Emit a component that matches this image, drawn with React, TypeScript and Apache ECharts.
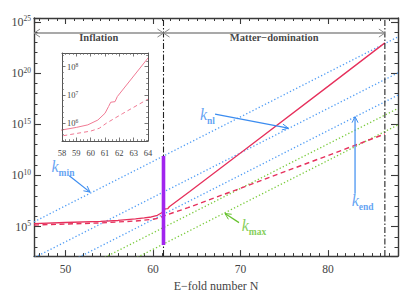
import React, { useEffect, useRef } from "react";
import * as echarts from "echarts";

// ---- axis ranges (x: e-fold number N, y: log10 k) ----
const xRange = [46.4, 88];
const yRange = [2.12, 25.38];
const insetXRange = [58, 64];
const insetYRange = [5.37, 8.48];

// ---- curves (log10 of value) ----
const solidN = [46.4, 50, 54, 56, 58, 59, 59.8, 60.5, 61.0, 61.25, 61.4, 61.7, 61.86, 64.2, 70, 80, 86.5];
const solidLogK = [5.3, 5.4, 5.52, 5.6, 5.76, 5.85, 5.94, 6.11, 6.35, 6.59, 6.74, 6.76, 6.94, 8.43, 12.2, 18.7, 22.95];
const dashedN = [46.4, 50, 54, 58, 60, 60.6, 61.1, 61.6, 62.2, 64, 70, 80, 86.5];
const dashedLogK = [5.15, 5.25, 5.36, 5.55, 5.72, 5.82, 6.0, 6.15, 6.33, 6.85, 8.75, 11.95, 14.05];

// ---- dotted mode lines: [N, log10 k] end points ----
const blueLines = [
  [[46.4, 5.47], [88, 23.54]],
  [[46.5, 2.0], [88, 20.02]],
  [[51.5, 2.0], [88, 17.85]],
];
const greenLines = [
  [[54.5, 2.0], [88, 16.55]],
  [[58.2, 2.0], [88, 14.94]],
];

// ---- markers ----
const transitionN = 61.2;
const endN = 86.5;
const reheatBar = [[61.2, 3.2], [61.2, 11.9]];
const eraLogK = 23.91;
const eraArrowN = [46.4, 61.2, 61.2, 86.5];
const eraArrowDir = [-1, 1, -1, 1];
const eraTitles = ["Inflation", "Matter\u2212domination"];
const eraTitleN = [53.8, 73.85];
const eraTitleLogK = 23.45;

// ---- annotations ----
const annotNames = ["min", "nl", "max", "end"];
const annotLabelN = [48.4, 65.37, 70.14, 82.71];
const annotLabelLogK = [10.87, 15.96, 5.1, 7.6];
const annotArrowFrom = [[50.43, 9.97], [67.09, 15.99], [69.83, 5.39], [83.09, 8.2]];
const annotArrowTo = [[52.8, 8.37], [75.46, 14.62], [68.23, 6.28], [83.09, 15.74]];
const BLUE = "#3b8cf0";
const GREEN = "#66c22e";
const annotColors = [BLUE, BLUE, GREEN, BLUE];

const RED = "#e6305c";
const INSET_RED = "#f07a94";
const DOT_BLUE = "#4f9cf5";
const DOT_GREEN = "#7acb3c";
const AXIS = "#3a3a3a";
const serif = '"Liberation Serif", "DejaVu Serif", serif';

const zip = (a: number[], b: number[]) => a.map((v, i) => [v, b[i]]);

export default function App() {
  const ref = useRef<HTMLDivElement>(null);
  useEffect(() => {
    if (!ref.current) return;
    const chart = echarts.init(ref.current, undefined, { renderer: "svg" });

    const supLabel = (step: number) => (v: number) => {
      const r = Math.round(v);
      if (Math.abs(v - r) < 1e-6 && r % step === 0) return `10{s|${r}}`;
      return "";
    };

    const mainX = (pos: "bottom" | "top", labels: boolean) => ({
      type: "value",
      gridIndex: 0,
      position: pos,
      min: xRange[0],
      max: xRange[1],
      splitNumber: 5,
      minInterval: 10,
      maxInterval: 10,
      splitLine: { show: false },
      axisLine: { show: true, onZero: false, lineStyle: { color: AXIS, width: 1.4 } },
      axisTick: { show: true, inside: true, length: 6, lineStyle: { color: AXIS, width: 1.1 } },
      minorTick: { show: true, splitNumber: 10, length: 3, lineStyle: { color: AXIS, width: 1 } },
      axisLabel: {
        show: labels,
        margin: 7,
        fontFamily: serif,
        fontSize: 11.5,
        color: "#444",
        formatter: (v: number) => (Math.abs(v % 10) < 1e-6 ? String(v) : ""),
      },
      ...(labels
        ? {
            name: "E\u2212fold number N",
            nameLocation: "middle",
            nameGap: 21,
            nameTextStyle: { fontFamily: serif, fontSize: 12, color: "#444" },
          }
        : {}),
    });

    const mainY = (pos: "left" | "right", labels: boolean) => ({
      type: "value",
      gridIndex: 0,
      position: pos,
      min: yRange[0],
      max: yRange[1],
      splitNumber: 5,
      minInterval: 5,
      maxInterval: 5,
      splitLine: { show: false },
      axisLine: { show: true, onZero: false, lineStyle: { color: AXIS, width: 1.4 } },
      axisTick: { show: true, inside: true, length: 7, lineStyle: { color: AXIS, width: 1.1 } },
      minorTick: { show: true, splitNumber: 5, length: 3.5, lineStyle: { color: AXIS, width: 1 } },
      axisLabel: {
        show: labels,
        margin: 3,
        fontFamily: serif,
        fontSize: 12,
        lineHeight: 14,
        color: "#444",
        formatter: supLabel(5),
        rich: { s: { fontFamily: serif, fontSize: 7.5, lineHeight: 8, verticalAlign: "top", color: "#444" } },
      },
    });

    const insetX = (pos: "bottom" | "top", labels: boolean) => ({
      type: "value",
      gridIndex: 1,
      position: pos,
      z: 10,
      min: insetXRange[0],
      max: insetXRange[1],
      interval: 1,
      splitLine: { show: false },
      axisLine: { show: true, onZero: false, lineStyle: { color: "#555", width: 1 } },
      axisTick: { show: true, inside: true, length: 3.5, lineStyle: { color: "#555", width: 0.8 } },
      minorTick: { show: true, splitNumber: 4, length: 1.8, lineStyle: { color: "#666", width: 0.8 } },
      axisLabel: { show: labels, margin: 7, fontFamily: serif, fontSize: 8.5, color: "#444" },
    });

    const insetY = (pos: "left" | "right", labels: boolean) => ({
      type: "value",
      gridIndex: 1,
      position: pos,
      z: 10,
      min: insetYRange[0],
      max: insetYRange[1],
      splitNumber: 3,
      minInterval: 1,
      maxInterval: 1,
      splitLine: { show: false },
      axisLine: { show: true, onZero: false, lineStyle: { color: "#555", width: 1 } },
      axisTick: { show: true, inside: true, length: 3.5, lineStyle: { color: "#555", width: 0.8 } },
      minorTick: { show: true, splitNumber: 5, length: 1.8, lineStyle: { color: "#666", width: 0.8 } },
      axisLabel: {
        show: labels,
        inside: true,
        margin: 5,
        fontFamily: serif,
        fontSize: 8.5,
        lineHeight: 10,
        color: "#444",
        formatter: supLabel(1),
        rich: { s: { fontFamily: serif, fontSize: 5.5, lineHeight: 6, verticalAlign: "top", color: "#444" } },
      },
    });

    const dotted = (pts: number[][], color: string) => ({
      type: "line",
      xAxisIndex: 0,
      yAxisIndex: 0,
      data: pts,
      symbol: "none",
      clip: true,
      silent: true,
      lineStyle: { color, width: 1.3, type: [1.3, 2.2] },
      z: 2,
    });

    const kLabelRich = (color: string) => ({
      k: { fontFamily: serif, fontStyle: "italic", fontSize: 16, lineHeight: 17, color },
      s: { fontFamily: serif, fontWeight: "bold", fontSize: 9.5, lineHeight: 9, verticalAlign: "bottom", color, padding: [0, 0, -3, 0] },
    });

    const option: any = {
      animation: false,
      backgroundColor: "#fff",
      grid: [
        { left: 34, top: 18, width: 364, height: 242 },
        { left: 62, top: 53, width: 86, height: 88, show: true, backgroundColor: "#fff", borderWidth: 0, z: 1 },
      ],
      xAxis: [mainX("bottom", true), mainX("top", false), insetX("bottom", true), insetX("top", false)],
      yAxis: [mainY("left", true), mainY("right", false), insetY("left", true), insetY("right", false)],
      series: [
        ...blueLines.map((l) => dotted(l, DOT_BLUE)),
        ...greenLines.map((l) => dotted(l, DOT_GREEN)),
        {
          type: "line",
          xAxisIndex: 0,
          yAxisIndex: 0,
          data: zip(dashedN, dashedLogK),
          symbol: "none",
          clip: true,
          lineStyle: { color: RED, width: 1.4, type: [5, 3.5] },
          z: 3,
        },
        {
          type: "line",
          xAxisIndex: 0,
          yAxisIndex: 0,
          data: zip(solidN, solidLogK),
          symbol: "none",
          clip: true,
          lineStyle: { color: RED, width: 1.3 },
          z: 3,
        },
        // vertical dash-dot markers
        ...[transitionN, endN].map((n) => ({
          type: "line",
          xAxisIndex: 0,
          yAxisIndex: 0,
          data: [[n, yRange[0]], [n, yRange[1]]],
          symbol: "none",
          lineStyle: { color: "#222", width: 1.1, type: [6, 2, 1.5, 2] },
          z: 4,
        })),
        // reheating bar
        {
          type: "line",
          xAxisIndex: 0,
          yAxisIndex: 0,
          data: reheatBar,
          symbol: "none",
          lineStyle: { color: "#a125ee", width: 3.6, cap: "butt" },
          z: 5,
        },
        // era line
        {
          type: "line",
          xAxisIndex: 0,
          yAxisIndex: 0,
          data: [[eraArrowN[0], eraLogK], [eraArrowN[3], eraLogK]],
          symbol: "none",
          lineStyle: { color: "#555", width: 1.1 },
          z: 4,
        },
        // era arrowheads
        {
          type: "custom",
          xAxisIndex: 0,
          yAxisIndex: 0,
          coordinateSystem: "cartesian2d",
          data: eraArrowN.map((n, i) => [n, eraLogK, eraArrowDir[i]]),
          encode: { x: 0, y: 1 },
          z: 5,
          renderItem: (_p: any, api: any) => {
            const p = api.coord([api.value(0), api.value(1)]);
            const d = api.value(2);
            const L = 6,
              W = 4;
            return {
              type: "polyline",
              shape: { points: [[p[0] - d * L, p[1] - W], [p[0], p[1]], [p[0] - d * L, p[1] + W]] },
              style: { stroke: "#888", fill: "none", lineWidth: 1 },
            };
          },
        },
        // era titles
        {
          type: "scatter",
          xAxisIndex: 0,
          yAxisIndex: 0,
          symbolSize: 0,
          itemStyle: { color: "transparent" },
          data: eraTitles.map((t, i) => ({ value: [eraTitleN[i], eraTitleLogK], name: t })),
          label: {
            show: true,
            position: "inside",
            formatter: (p: any) => p.name,
            fontFamily: serif,
            fontWeight: "bold",
            fontSize: 10.5,
            color: "#111",
          },
          z: 6,
        },
        // annotation arrows
        {
          type: "custom",
          xAxisIndex: 0,
          yAxisIndex: 0,
          coordinateSystem: "cartesian2d",
          data: annotArrowFrom.map((a, i) => [a[0], a[1], annotArrowTo[i][0], annotArrowTo[i][1]]),
          encode: { x: [0, 2], y: [1, 3] },
          z: 6,
          renderItem: (params: any, api: any) => {
            const a = api.coord([api.value(0), api.value(1)]);
            const b = api.coord([api.value(2), api.value(3)]);
            const dx = b[0] - a[0],
              dy = b[1] - a[1];
            const len = Math.hypot(dx, dy) || 1;
            const ux = dx / len,
              uy = dy / len;
            const L = 6,
              W = 3;
            const color = annotColors[params.dataIndex];
            return {
              type: "group",
              children: [
                { type: "line", shape: { x1: a[0], y1: a[1], x2: b[0], y2: b[1] }, style: { stroke: color, lineWidth: 1.2 } },
                {
                  type: "polyline",
                  shape: {
                    points: [
                      [b[0] - L * ux - W * uy, b[1] - L * uy + W * ux],
                      [b[0], b[1]],
                      [b[0] - L * ux + W * uy, b[1] - L * uy - W * ux],
                    ],
                  },
                  style: { stroke: color, fill: "none", lineWidth: 1 },
                },
              ],
            };
          },
        },
        // annotation labels
        {
          type: "scatter",
          xAxisIndex: 0,
          yAxisIndex: 0,
          symbolSize: 0,
          itemStyle: { color: "transparent" },
          data: annotNames.map((nm, i) => ({
            value: [annotLabelN[i], annotLabelLogK[i]],
            name: nm,
            label: {
              formatter: `{k|k}{s|${nm}}`,
              rich: kLabelRich(annotColors[i]),
            },
          })),
          label: { show: true, position: "right", distance: 0 },
          z: 7,
        },
        // inset curves
        {
          type: "line",
          xAxisIndex: 2,
          yAxisIndex: 2,
          data: zip(dashedN, dashedLogK),
          symbol: "none",
          clip: true,
          lineStyle: { color: INSET_RED, width: 1, type: [4, 3] },
          z: 8,
        },
        {
          type: "line",
          xAxisIndex: 2,
          yAxisIndex: 2,
          data: zip(solidN, solidLogK),
          symbol: "none",
          clip: true,
          lineStyle: { color: INSET_RED, width: 1 },
          z: 8,
        },
      ],
    };

    chart.setOption(option);
    return () => chart.dispose();
  }, []);

  return <div ref={ref} style={{ position: "fixed", left: 0, top: 0, width: 415, height: 297 }} />;
}
